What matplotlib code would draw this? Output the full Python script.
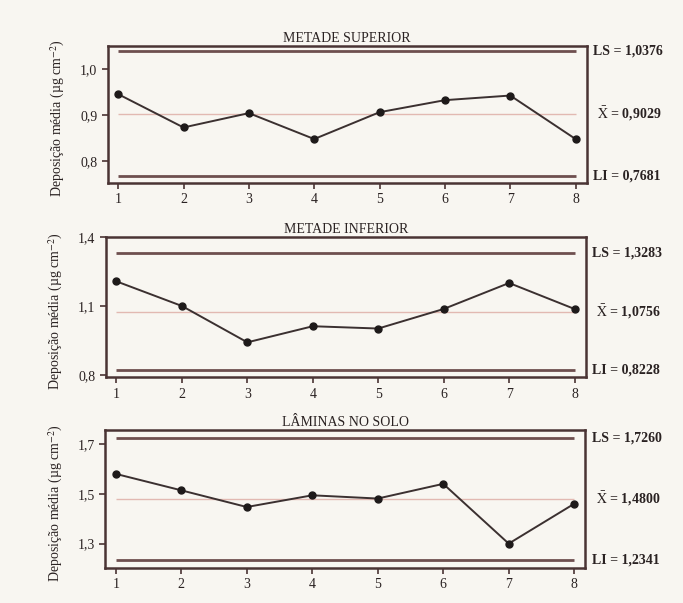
import matplotlib.pyplot as plt
from matplotlib.transforms import blended_transform_factory

plt.rcParams['font.family'] = 'Liberation Serif'
plt.rcParams['mathtext.fontset'] = 'stix'

amostras = [1, 2, 3, 4, 5, 6, 7, 8]

sup_vals = [0.945, 0.873, 0.904, 0.848, 0.906, 0.932, 0.942, 0.848]
sup_lim = (0.7681, 0.9029, 1.0376)

inf_vals = [1.207, 1.100, 0.942, 1.012, 1.002, 1.087, 1.200, 1.087]
inf_lim = (0.8228, 1.0756, 1.3283)

solo_vals = [1.580, 1.514, 1.447, 1.494, 1.481, 1.540, 1.300, 1.460]
solo_lim = (1.2341, 1.4800, 1.7260)

titulos = ['METADE SUPERIOR', 'METADE INFERIOR', 'LÂMINAS NO SOLO']
yticks = [[0.8, 0.9, 1.0], [0.8, 1.1, 1.4], [1.3, 1.5, 1.7]]
ylims = [(0.753, 1.049), (0.79, 1.40), (1.202, 1.755)]

BG = '#f8f6f1'
BOX = '#4a3434'
LIM = '#6e4f4f'
MEAN = '#e2b9b2'
LINE = '#3b3030'


def fmt(v, casas):
    return f'{v:.{casas}f}'.replace('.', ',')


def carta(ax, vals, lim, titulo, ticks, ylim):
    li, media, ls = lim
    ax.set_facecolor(BG)
    ax.hlines([ls, li], 1, 8, colors=LIM, lw=2.0, zorder=2)
    ax.hlines(media, 1, 8, colors=MEAN, lw=1.0, zorder=1)
    ax.plot(amostras, vals, color=LINE, lw=1.4, marker='o', ms=5,
            mfc='#1e1a1a', mec='#1e1a1a', zorder=3)

    ax.set_xlim(0.84, 8.17)
    ax.set_ylim(*ylim)
    ax.set_xticks(amostras)
    ax.set_yticks(ticks)
    ax.set_yticklabels([fmt(t, 1) for t in ticks])
    ax.tick_params(colors=BOX, labelcolor='#2a2222', labelsize=10,
                   length=4, width=1.2)
    for sp in ax.spines.values():
        sp.set_color(BOX)
        sp.set_linewidth(1.8)

    ax.set_title(titulo, fontsize=10, color='#2a2222', pad=3)
    ax.set_ylabel('Deposição média (µg cm$^{-2}$)', fontsize=10,
                  color='#2a2222')
    ax.yaxis.set_label_coords(-0.085, 0.47)

    tr = blended_transform_factory(ax.transAxes, ax.transData)
    kw = dict(transform=tr, fontsize=10, color='#2a2222', va='center',
              fontweight='bold')
    ax.text(1.013, ls, f'LS = {fmt(ls, 4)}', **kw)
    ax.text(1.022, media, r'$\mathrm{\bar{X}}$' + f' = {fmt(media, 4)}', **kw)
    ax.text(1.013, li, f'LI = {fmt(li, 4)}', **kw)


fig = plt.figure(figsize=(6.83, 6.03), dpi=100, facecolor=BG)
posicoes = [
    [0.1577, 0.6965, 0.7013, 0.2272],
    [0.1552, 0.3743, 0.7023, 0.2327],
    [0.1542, 0.0580, 0.7028, 0.2284],
]
dados = [(sup_vals, sup_lim), (inf_vals, inf_lim), (solo_vals, solo_lim)]

for pos, (vals, lim), titulo, tk, yl in zip(posicoes, dados, titulos, yticks, ylims):
    ax = fig.add_axes(pos)
    carta(ax, vals, lim, titulo, tk, yl)

fig.savefig('out.png', dpi=100, facecolor=BG)
